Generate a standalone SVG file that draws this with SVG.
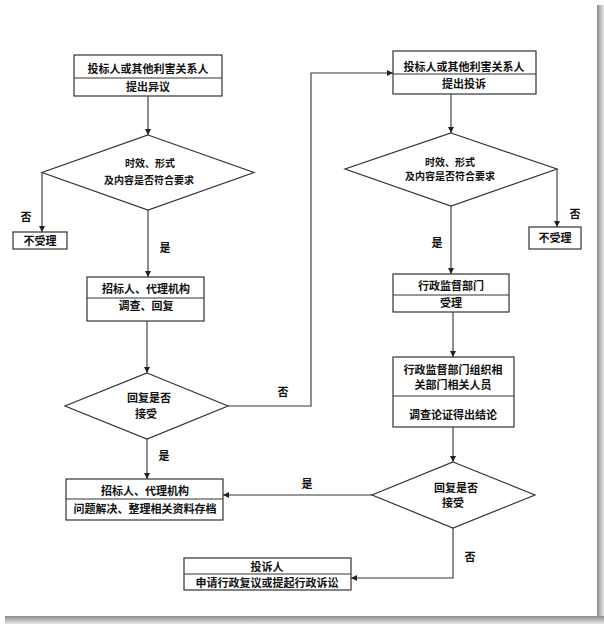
<svg xmlns="http://www.w3.org/2000/svg" width="604" height="624" viewBox="0 0 604 624">
<defs>
<marker id="arr" viewBox="0 0 10 10" refX="10" refY="5" markerWidth="6" markerHeight="6" markerUnits="userSpaceOnUse" orient="auto">
<path d="M0,0 L10,5 L0,10 z" fill="#222"/>
</marker>
<linearGradient id="shR" x1="0" y1="0" x2="1" y2="0"><stop offset="0" stop-color="#8a8a8a"/><stop offset="1" stop-color="#e8e8e8"/></linearGradient>
<linearGradient id="shB" x1="0" y1="0" x2="0" y2="1"><stop offset="0" stop-color="#8a8a8a"/><stop offset="1" stop-color="#e8e8e8"/></linearGradient>
</defs>
<style>
.box{fill:#fff;stroke:#333;stroke-width:1.2}
.div{stroke:#333;stroke-width:1}
.dia{fill:#fff;stroke:#333;stroke-width:1.2}
.t{font-family:"Liberation Sans","Noto Sans CJK SC",sans-serif;font-weight:bold;font-size:11px;fill:#111;text-anchor:middle}
.s{font-size:10px}
.lb{font-family:"Liberation Sans","Noto Sans CJK SC",sans-serif;font-weight:bold;font-size:11px;fill:#111;text-anchor:middle}
.c{fill:none;stroke:#333;stroke-width:1.1}
</style>
<rect x="0" y="0" width="604" height="624" fill="#fff"/>
<rect x="597" y="5" width="7" height="619" fill="url(#shR)"/>
<rect x="5" y="616" width="599" height="8" fill="url(#shB)"/>
<rect x="0" y="0" width="597" height="616" fill="#fff"/>

<g id="connectors">
<path class="c" d="M148,96 V135" marker-end="url(#arr)"/>
<path class="c" d="M42,172.5 V232" marker-end="url(#arr)"/>
<path class="c" d="M148,210 V277" marker-end="url(#arr)"/>
<path class="c" d="M147,321 V373" marker-end="url(#arr)"/>
<path class="c" d="M228,406 H311 V73 H393" marker-end="url(#arr)"/>
<path class="c" d="M147,439 V479" marker-end="url(#arr)"/>
<path class="c" d="M451,94 V133" marker-end="url(#arr)"/>
<path class="c" d="M557,169 V227" marker-end="url(#arr)"/>
<path class="c" d="M451,206 V274" marker-end="url(#arr)"/>
<path class="c" d="M453,312 V357" marker-end="url(#arr)"/>
<path class="c" d="M453,427 V462" marker-end="url(#arr)"/>
<path class="c" d="M372,495 H223" marker-end="url(#arr)"/>
<path class="c" d="M453,528 V578 H351" marker-end="url(#arr)"/>
<text class="lb" x="26" y="221">否</text>
<text class="lb" x="165" y="252">是</text>
<text class="lb" x="283" y="396">否</text>
<text class="lb" x="164" y="460">是</text>
<text class="lb" x="575" y="218">否</text>
<text class="lb" x="437" y="247">是</text>
<text class="lb" x="307" y="488">是</text>
<text class="lb" x="470" y="561">否</text>
</g>

<g id="n1">
<rect class="box" x="74" y="55" width="148" height="41"/>
<line class="div" x1="74" y1="78" x2="222" y2="78"/>
<text class="t" x="148" y="72.5">投标人或其他利害关系人</text>
<text class="t" x="148" y="91">提出异议</text>
</g>
<g id="d1">
<polygon class="dia" points="148,135 254,172.5 148,210 42,172.5"/>
<text class="t s" x="150" y="166.5">时效、形式</text>
<text class="t s" x="149" y="183.5">及内容是否符合要求</text>
</g>
<g id="n_reject1">
<rect class="box" x="13" y="232" width="54" height="17"/>
<text class="t" x="40" y="244.5">不受理</text>
</g>
<g id="n3">
<rect class="box" x="87" y="277" width="117" height="44"/>
<line class="div" x1="87" y1="298" x2="204" y2="298"/>
<text class="t" x="146" y="293">招标人、代理机构</text>
<text class="t" x="146" y="310">调查、回复</text>
</g>
<g id="d2">
<polygon class="dia" points="147,373 228,406 147,439 65,406"/>
<text class="t" x="149" y="402">回复是否</text>
<text class="t" x="146" y="418">接受</text>
</g>
<g id="n6">
<rect class="box" x="66" y="479" width="157" height="41"/>
<line class="div" x1="66" y1="499" x2="223" y2="499"/>
<text class="t" x="145" y="495">招标人、代理机构</text>
<text class="t" x="145" y="513">问题解决、整理相关资料存档</text>
</g>
<g id="n2">
<rect class="box" x="393" y="51" width="143" height="43"/>
<line class="div" x1="393" y1="74" x2="536" y2="74"/>
<text class="t" x="464" y="70.5">投标人或其他利害关系人</text>
<text class="t" x="464" y="88">提出投诉</text>
</g>
<g id="d3">
<polygon class="dia" points="451,133 557,169 451,206 345,169"/>
<text class="t s" x="450" y="165.5">时效、形式</text>
<text class="t s" x="450" y="180">及内容是否符合要求</text>
</g>
<g id="n_reject2">
<rect class="box" x="529" y="227" width="52" height="22"/>
<text class="t" x="555" y="242">不受理</text>
</g>
<g id="n4">
<rect class="box" x="393" y="274" width="116" height="38"/>
<line class="div" x1="393" y1="295" x2="509" y2="295"/>
<text class="t" x="451" y="290">行政监督部门</text>
<text class="t" x="451" y="307">受理</text>
</g>
<g id="n5">
<rect class="box" x="393" y="357" width="121" height="70"/>
<line class="div" x1="393" y1="396" x2="514" y2="396"/>
<text class="t" x="453" y="374">行政监督部门组织相</text>
<text class="t" x="453" y="389">关部门相关人员</text>
<text class="t" x="453" y="419">调查论证得出结论</text>
</g>
<g id="d4">
<polygon class="dia" points="453,462 535,495 453,528 372,495"/>
<text class="t" x="456" y="492">回复是否</text>
<text class="t" x="453" y="507">接受</text>
</g>
<g id="n7">
<rect class="box" x="184" y="558" width="167" height="32"/>
<line class="div" x1="184" y1="574" x2="351" y2="574"/>
<text class="t" x="267" y="571">投诉人</text>
<text class="t" x="267" y="587">申请行政复议或提起行政诉讼</text>
</g>
</svg>
